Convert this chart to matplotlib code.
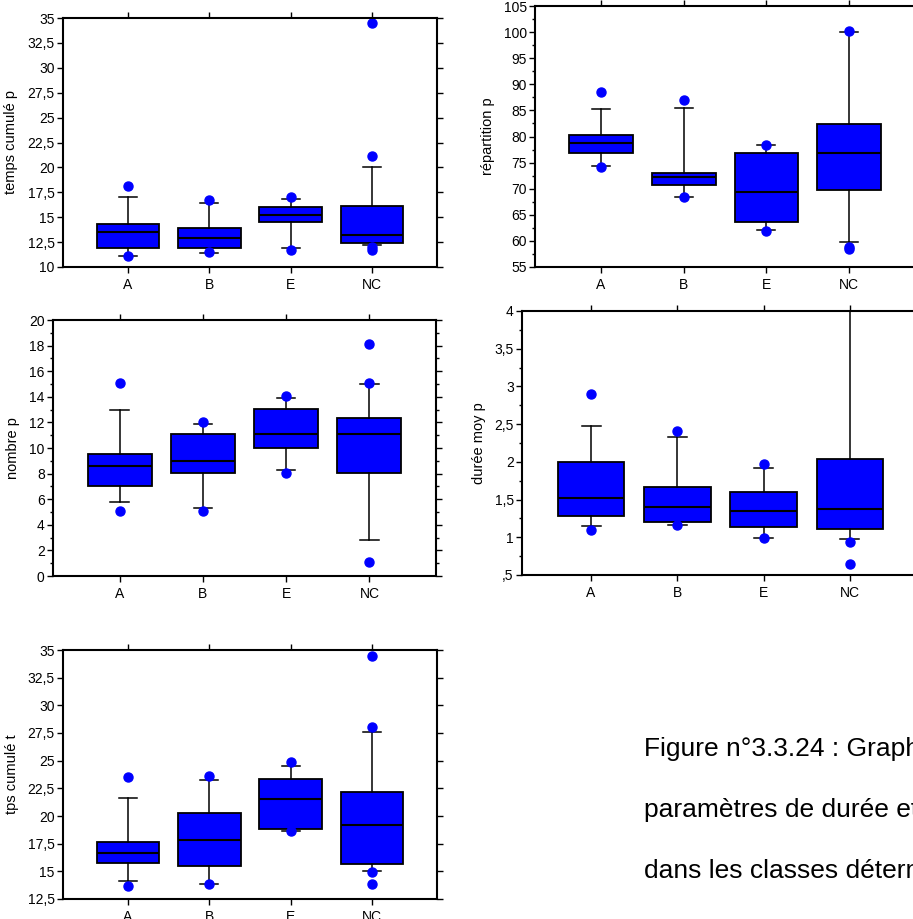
import matplotlib
matplotlib.use('Agg')
import matplotlib.pyplot as plt
from matplotlib.ticker import MultipleLocator, FuncFormatter

plt.rcParams['font.family'] = ['Liberation Sans', 'DejaVu Sans']
plt.rcParams['font.size'] = 10

cats = ['A', 'B', 'E', 'NC']

# temps cumulé p
tcp_q1 = [11.95, 11.95, 14.55, 12.45]
tcp_med = [13.5, 12.9, 15.25, 13.25]
tcp_q3 = [14.3, 13.9, 16.0, 16.1]
tcp_lo = [11.15, 11.4, 11.95, 12.25]
tcp_hi = [17.05, 16.4, 16.8, 20.0]
tcp_out = [[18.15, 11.1], [16.7, 11.5], [17.0, 11.75], [34.5, 21.15, 11.75, 12.0]]

# répartition p
rep_q1 = [76.85, 70.65, 63.6, 69.8]
rep_med = [78.8, 72.3, 69.35, 76.9]
rep_q3 = [80.3, 73.1, 76.9, 82.35]
rep_lo = [74.3, 68.5, 62.05, 59.7]
rep_hi = [85.25, 85.5, 78.3, 100.05]
rep_out = [[88.5, 74.2], [87.0, 68.4], [78.3, 61.9], [100.2, 58.9, 58.5]]

# nombre p
nb_q1 = [7.0, 8.05, 10.0, 8.05]
nb_med = [8.6, 9.0, 11.1, 11.1]
nb_q3 = [9.5, 11.1, 13.05, 12.35]
nb_lo = [5.75, 5.3, 8.25, 2.85]
nb_hi = [12.95, 11.9, 13.9, 15.0]
nb_out = [[15.05, 5.05], [12.05, 5.05], [14.05, 8.05], [18.1, 15.05, 1.1]]

# durée moy p
dm_q1 = [1.285, 1.2, 1.14, 1.11]
dm_med = [1.525, 1.4, 1.35, 1.38]
dm_q3 = [2.0, 1.67, 1.6, 2.035]
dm_lo = [1.145, 1.16, 0.995, 0.98]
dm_hi = [2.475, 2.33, 1.925, 4.6]
dm_out = [[2.9, 1.095], [2.41, 1.16], [1.975, 0.985], [0.935, 0.64]]

# tps cumulé t
tct_q1 = [15.75, 15.5, 18.8, 15.65]
tct_med = [16.7, 17.85, 21.5, 19.15]
tct_q3 = [17.65, 20.3, 23.35, 22.2]
tct_lo = [14.15, 13.9, 18.6, 15.05]
tct_hi = [21.6, 23.25, 24.55, 27.6]
tct_out = [[23.55, 13.7], [23.65, 13.85], [24.85, 18.6], [34.45, 28.05, 14.9, 13.85]]

caption = ['Figure n°3.3.24 : Graphiques des',
           'paramètres de durée et de nombre',
           'dans les classes déterminées']

W, H = 913, 919


def fr(v, pos):
    # french decimal comma, no leading zero
    s = ('%g' % v).replace('.', ',')
    if s.startswith('0,'):
        s = s[1:]
    return s


def box_panel(rect, q1, med, q3, lo, hi, out, ylim, major, minor, label, labx):
    l, t, r, b = rect
    ax = fig.add_axes([l / W, 1 - b / H, (r - l) / W, (b - t) / H])
    stats = []
    for i in range(len(cats)):
        stats.append(dict(q1=q1[i], med=med[i], q3=q3[i], whislo=lo[i],
                          whishi=hi[i], fliers=out[i], label=cats[i]))
    ax.bxp(stats, positions=range(1, 5), widths=0.77, capwidths=0.22,
           patch_artist=True, showfliers=True,
           boxprops=dict(facecolor='#0000ff', edgecolor='black', linewidth=1.3),
           medianprops=dict(color='black', linewidth=1.5),
           whiskerprops=dict(color='black', linewidth=1.1),
           capprops=dict(color='black', linewidth=1.1),
           flierprops=dict(marker='o', markerfacecolor='#0000ff',
                           markeredgecolor='#0000ff', markersize=6.5))
    ax.set_xlim(0.2, 4.8)
    ax.set_ylim(*ylim)
    ax.yaxis.set_major_locator(MultipleLocator(major))
    if minor:
        ax.yaxis.set_minor_locator(MultipleLocator(minor))
    ax.yaxis.set_major_formatter(FuncFormatter(fr))
    ax.tick_params(axis='y', which='major', direction='out', length=4,
                   width=1, right=True, pad=2)
    ax.tick_params(axis='y', which='minor', direction='out', length=2,
                   width=1, right=True)
    ax.tick_params(axis='x', direction='out', length=4, width=1, top=True, pad=4)
    for s in ax.spines.values():
        s.set_linewidth(1.5)
    ax.set_ylabel(label, fontsize=10.5)
    ax.yaxis.set_label_coords(labx, 0.5)
    return ax


fig = plt.figure(figsize=(W / 100, H / 100), dpi=100)
fig.patch.set_facecolor('white')

box_panel((63, 18, 437, 267), tcp_q1, tcp_med, tcp_q3, tcp_lo, tcp_hi, tcp_out,
          (10, 35), 2.5, None, 'temps cumulé p', -0.12)
box_panel((535, 6, 915, 267), rep_q1, rep_med, rep_q3, rep_lo, rep_hi, rep_out,
          (55, 105), 5, 2.5, 'répartition p', -0.105)
box_panel((53, 320, 436, 576), nb_q1, nb_med, nb_q3, nb_lo, nb_hi, nb_out,
          (0, 20), 2, 1, 'nombre p', -0.086)
box_panel((522, 311, 919, 575), dm_q1, dm_med, dm_q3, dm_lo, dm_hi, dm_out,
          (0.5, 4), 0.5, 0.25, 'durée moy p', -0.091)
box_panel((63, 650, 437, 899), tct_q1, tct_med, tct_q3, tct_lo, tct_hi, tct_out,
          (12.5, 35), 2.5, None, 'tps cumulé t', -0.118)

# caption text, cut by the right edge
for i, line in enumerate(caption):
    fig.text(644 / W, 1 - (756 + 61 * i) / H, line, fontsize=19,
             va='baseline', ha='left')

fig.savefig('out.png', dpi=100)
